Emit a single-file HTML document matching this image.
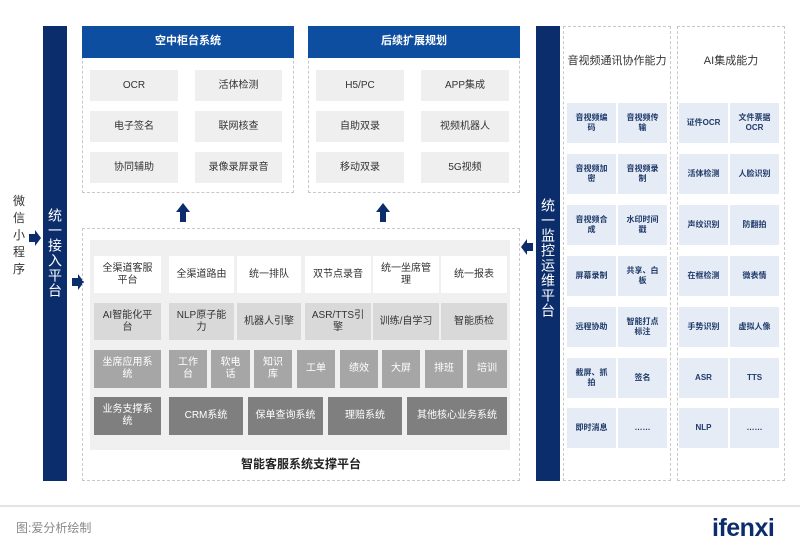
<!DOCTYPE html>
<html><head><meta charset="utf-8"><style>
*{margin:0;padding:0;box-sizing:border-box}
body{width:800px;height:559px;background:#fff;position:relative;overflow:hidden;font-family:"Liberation Sans","Noto Sans CJK SC",sans-serif}
.a{position:absolute}
.c{position:absolute;display:flex;align-items:center;justify-content:center;text-align:center;line-height:1.2}
.g{background:#efefef;color:#333;font-size:10px}
.hd{background:#0d4ea0;color:#fff;font-weight:bold;font-size:11px}
.dash{border:1px dashed #c8c8c8}
.bar{background:#0b2d6b;color:#fff;font-size:14px;writing-mode:vertical-rl;display:flex;align-items:center;justify-content:center;letter-spacing:1px}
.r1{background:#fff;color:#333;font-size:10px}
.r2{background:#d9d9d9;color:#333;font-size:10px}
.r3{background:#a6a6a6;color:#fff;font-size:10px}
.r4{background:#7f7f7f;color:#fff;font-size:10px}
.b{background:#e6ecf5;color:#1f3a6b;font-size:8px;font-weight:bold}
</style></head><body>
<div class="a bar" style="left:43px;top:26px;width:24px;height:455px;justify-content:flex-start;padding-top:0"><span style="position:absolute;top:182px">统一接入平台</span></div>
<div class="a" style="left:13px;top:193px;width:14px;font-size:12px;color:#333;line-height:17px">微信小程序</div>
<svg class="a" style="left:0;top:0" width="800" height="559">
<polygon points="29,234 35,234 35,230 41,238 35,246 35,242 29,242" fill="#0b2d6b"/>
<polygon points="72,278 78,278 78,274 84,282 78,290 78,286 72,286" fill="#0b2d6b"/>
<polygon points="533,243 527,243 527,239 521,247 527,255 527,251 533,251" fill="#0b2d6b"/>
<polygon points="180,222 186,222 186,212 190,212 183,203 176,212 180,212" fill="#0b2d6b"/>
<polygon points="380,222 386,222 386,212 390,212 383,203 376,212 380,212" fill="#0b2d6b"/>
</svg>
<div class="a dash" style="left:82px;top:26px;width:212px;height:167px"></div>
<div class="c hd" style="left:82px;top:26px;width:212px;height:32px">空中柜台系统</div>
<div class="c g" style="left:90px;top:70px;width:88px;height:31px">OCR</div>
<div class="c g" style="left:195px;top:70px;width:87px;height:31px">活体检测</div>
<div class="c g" style="left:90px;top:111px;width:88px;height:31px">电子签名</div>
<div class="c g" style="left:195px;top:111px;width:87px;height:31px">联网核查</div>
<div class="c g" style="left:90px;top:152px;width:88px;height:31px">协同辅助</div>
<div class="c g" style="left:195px;top:152px;width:87px;height:31px">录像录屏录音</div>
<div class="a dash" style="left:308px;top:26px;width:212px;height:167px"></div>
<div class="c hd" style="left:308px;top:26px;width:212px;height:32px">后续扩展规划</div>
<div class="c g" style="left:316px;top:70px;width:88px;height:31px">H5/PC</div>
<div class="c g" style="left:421px;top:70px;width:88px;height:31px">APP集成</div>
<div class="c g" style="left:316px;top:111px;width:88px;height:31px">自助双录</div>
<div class="c g" style="left:421px;top:111px;width:88px;height:31px">视频机器人</div>
<div class="c g" style="left:316px;top:152px;width:88px;height:31px">移动双录</div>
<div class="c g" style="left:421px;top:152px;width:88px;height:31px">5G视频</div>
<div class="a dash" style="left:82px;top:228px;width:438px;height:253px"></div>
<div class="a" style="left:90px;top:240px;width:420px;height:210px;background:#f0f0f0"></div>
<div class="c" style="left:82px;top:455px;width:438px;height:18px;font-size:12px;font-weight:bold;color:#222">智能客服系统支撑平台</div>
<div class="c r1" style="left:94px;top:256px;width:67px;height:37px">全渠道客服<br>平台</div>
<div class="c r1" style="left:169px;top:256px;width:65px;height:37px">全渠道路由</div>
<div class="c r1" style="left:237px;top:256px;width:64px;height:37px">统一排队</div>
<div class="c r1" style="left:305px;top:256px;width:66px;height:37px">双节点录音</div>
<div class="c r1" style="left:373px;top:256px;width:66px;height:37px">统一坐席管<br>理</div>
<div class="c r1" style="left:441px;top:256px;width:66px;height:37px">统一报表</div>
<div class="c r2" style="left:94px;top:303px;width:67px;height:37px">AI智能化平<br>台</div>
<div class="c r2" style="left:169px;top:303px;width:65px;height:37px">NLP原子能<br>力</div>
<div class="c r2" style="left:237px;top:303px;width:64px;height:37px">机器人引擎</div>
<div class="c r2" style="left:305px;top:303px;width:66px;height:37px">ASR/TTS引<br>擎</div>
<div class="c r2" style="left:373px;top:303px;width:66px;height:37px">训练/自学习</div>
<div class="c r2" style="left:441px;top:303px;width:66px;height:37px">智能质检</div>
<div class="c r3" style="left:94px;top:350px;width:67px;height:38px">坐席应用系<br>统</div>
<div class="c r3" style="left:169px;top:350px;width:38px;height:38px">工作<br>台</div>
<div class="c r3" style="left:211px;top:350px;width:39px;height:38px">软电<br>话</div>
<div class="c r3" style="left:254px;top:350px;width:38px;height:38px">知识<br>库</div>
<div class="c r3" style="left:297px;top:350px;width:38px;height:38px">工单</div>
<div class="c r3" style="left:340px;top:350px;width:38px;height:38px">绩效</div>
<div class="c r3" style="left:382px;top:350px;width:38px;height:38px">大屏</div>
<div class="c r3" style="left:425px;top:350px;width:38px;height:38px">排班</div>
<div class="c r3" style="left:467px;top:350px;width:40px;height:38px">培训</div>
<div class="c r4" style="left:94px;top:397px;width:67px;height:38px">业务支撑系<br>统</div>
<div class="c r4" style="left:169px;top:397px;width:74px;height:38px">CRM系统</div>
<div class="c r4" style="left:248px;top:397px;width:75px;height:38px">保单查询系统</div>
<div class="c r4" style="left:328px;top:397px;width:74px;height:38px">理赔系统</div>
<div class="c r4" style="left:407px;top:397px;width:100px;height:38px">其他核心业务系统</div>
<div class="a bar" style="left:536px;top:26px;width:24px;height:455px"><span style="position:absolute;top:172px">统一监控运维平台</span></div>
<div class="a dash" style="left:563px;top:26px;width:108px;height:455px"></div>
<div class="a dash" style="left:677px;top:26px;width:108px;height:455px"></div>
<div class="c" style="left:563px;top:54px;width:108px;height:16px;font-size:11px;color:#333">音视频通讯协作能力</div>
<div class="c" style="left:677px;top:54px;width:108px;height:16px;font-size:11px;color:#333">AI集成能力</div>
<div class="c b" style="left:567px;top:103px;width:49px;height:40px">音视频编<br>码</div>
<div class="c b" style="left:618px;top:103px;width:49px;height:40px">音视频传<br>输</div>
<div class="c b" style="left:567px;top:154px;width:49px;height:40px">音视频加<br>密</div>
<div class="c b" style="left:618px;top:154px;width:49px;height:40px">音视频录<br>制</div>
<div class="c b" style="left:567px;top:205px;width:49px;height:40px">音视频合<br>成</div>
<div class="c b" style="left:618px;top:205px;width:49px;height:40px">水印时间<br>戳</div>
<div class="c b" style="left:567px;top:256px;width:49px;height:40px">屏幕录制</div>
<div class="c b" style="left:618px;top:256px;width:49px;height:40px">共享、白<br>板</div>
<div class="c b" style="left:567px;top:307px;width:49px;height:40px">远程协助</div>
<div class="c b" style="left:618px;top:307px;width:49px;height:40px">智能打点<br>标注</div>
<div class="c b" style="left:567px;top:358px;width:49px;height:40px">截屏、抓<br>拍</div>
<div class="c b" style="left:618px;top:358px;width:49px;height:40px">签名</div>
<div class="c b" style="left:567px;top:408px;width:49px;height:40px">即时消息</div>
<div class="c b" style="left:618px;top:408px;width:49px;height:40px">……</div>
<div class="c b" style="left:679px;top:103px;width:49px;height:40px">证件OCR</div>
<div class="c b" style="left:730px;top:103px;width:49px;height:40px">文件票据<br>OCR</div>
<div class="c b" style="left:679px;top:154px;width:49px;height:40px">活体检测</div>
<div class="c b" style="left:730px;top:154px;width:49px;height:40px">人脸识别</div>
<div class="c b" style="left:679px;top:205px;width:49px;height:40px">声纹识别</div>
<div class="c b" style="left:730px;top:205px;width:49px;height:40px">防翻拍</div>
<div class="c b" style="left:679px;top:256px;width:49px;height:40px">在框检测</div>
<div class="c b" style="left:730px;top:256px;width:49px;height:40px">微表情</div>
<div class="c b" style="left:679px;top:307px;width:49px;height:40px">手势识别</div>
<div class="c b" style="left:730px;top:307px;width:49px;height:40px">虚拟人像</div>
<div class="c b" style="left:679px;top:358px;width:49px;height:40px">ASR</div>
<div class="c b" style="left:730px;top:358px;width:49px;height:40px">TTS</div>
<div class="c b" style="left:679px;top:408px;width:49px;height:40px">NLP</div>
<div class="c b" style="left:730px;top:408px;width:49px;height:40px">……</div>
<div class="a" style="left:0;top:505px;width:800px;height:2px;background:#e3e3e3"></div>
<div class="a" style="left:16px;top:519px;font-size:12px;color:#888">图:爱分析绘制</div>
<div class="a" style="left:712px;top:514px;font-size:25px;font-weight:bold;color:#0b2d6b;letter-spacing:-0.5px">ifenxi</div>
</body></html>
